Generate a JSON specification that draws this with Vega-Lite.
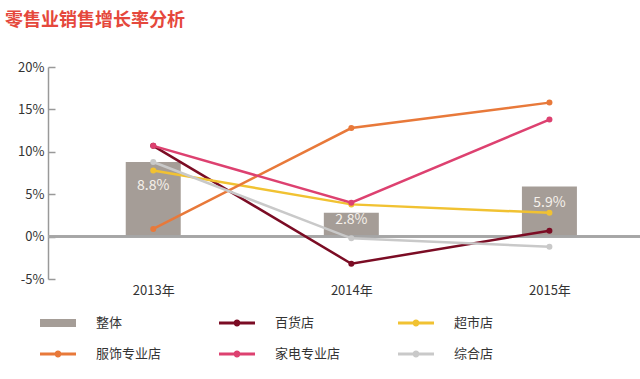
{
  "$schema": "https://vega.github.io/schema/vega-lite/v6.json",
  "width": 592,
  "height": 212,
  "autosize": {"type": "none"},
  "padding": {"left": 48, "top": 67, "right": 0, "bottom": 100},
  "background": "white",
  "config": {"font": "Noto Sans CJK SC", "view": {"stroke": null}},
  "title": {"text": "零售业销售增长率分析", "anchor": "start", "frame": "group", "dx": -43, "offset": 31, "fontSize": 18, "fontWeight": "bold", "color": "#e5483c"},
  "data": {"values": [
    {"year": 2013, "series": "整体", "value": 0.088},
    {"year": 2014, "series": "整体", "value": 0.028},
    {"year": 2015, "series": "整体", "value": 0.059},
    {"year": 2013, "series": "百货店", "value": 0.107},
    {"year": 2014, "series": "百货店", "value": -0.032},
    {"year": 2015, "series": "百货店", "value": 0.007},
    {"year": 2013, "series": "超市店", "value": 0.078},
    {"year": 2014, "series": "超市店", "value": 0.038},
    {"year": 2015, "series": "超市店", "value": 0.028},
    {"year": 2013, "series": "服饰专业店", "value": 0.009},
    {"year": 2014, "series": "服饰专业店", "value": 0.128},
    {"year": 2015, "series": "服饰专业店", "value": 0.158},
    {"year": 2013, "series": "家电专业店", "value": 0.107},
    {"year": 2014, "series": "家电专业店", "value": 0.040},
    {"year": 2015, "series": "家电专业店", "value": 0.138},
    {"year": 2013, "series": "综合店", "value": 0.088},
    {"year": 2014, "series": "综合店", "value": -0.002},
    {"year": 2015, "series": "综合店", "value": -0.012}
  ]},
  "layer": [
    {
      "transform": [{"filter": "datum.series === '整体'"}],
      "mark": {"type": "bar", "size": 55},
      "encoding": {
        "x": {"field": "year", "type": "quantitative", "scale": {"domain": [2012.494, 2015.432], "nice": false, "zero": false},
          "axis": {"values": [2013, 2014, 2015], "labelExpr": "datum.value + '年'", "domain": false, "ticks": false, "grid": false, "labelPadding": 5, "labelFontSize": 13, "labelColor": "#333333", "title": null}},
        "y": {"field": "value", "type": "quantitative", "scale": {"domain": [-0.05, 0.2], "nice": false},
          "axis": {"values": [-0.05, 0, 0.05, 0.1, 0.15, 0.2], "labelExpr": "round(datum.value*100) + '%'", "grid": false, "domainColor": "#999999", "domainWidth": 1.5, "tickColor": "#999999", "tickWidth": 1.5, "tickSize": -7, "labelPadding": 11, "labelFontSize": 13, "labelColor": "#333333", "title": null}},
        "color": {"field": "series", "type": "nominal",
          "scale": {"domain": ["整体", "百货店", "超市店", "服饰专业店", "家电专业店", "综合店"], "range": ["#a59d97", "#7b0c24", "#f1c232", "#e8793a", "#dd4170", "#c9c9c9"]},
          "legend": {"orient": "none", "legendX": -8, "legendY": 238, "columns": 3, "direction": "horizontal", "title": null, "columnPadding": 57, "rowPadding": 6, "labelOffset": 20, "labelFontSize": 13, "labelColor": "#333333", "symbolSize": 1296,
            "encode": {"symbols": {"update": {
              "shape": {"signal": "datum.value === '整体' ? 'M-1,-0.22H1V0.22H-1Z' : 'M-1,-0.08H1V0.08H-1Z M-0.19,0A0.19,0.19 0 1,1 0.19,0A0.19,0.19 0 1,1 -0.19,0Z'"},
              "fill": {"signal": "scale('color', datum.value)"},
              "stroke": {"value": "transparent"},
              "strokeWidth": {"value": 0},
              "opacity": {"value": 1}
            }}}}}
      }
    },
    {
      "mark": {"type": "rule", "color": "#a6a6a6", "strokeWidth": 1.5},
      "encoding": {"y": {"datum": 0}}
    },
    {
      "transform": [{"filter": "datum.series === '整体'"}],
      "mark": {"type": "text", "baseline": "middle", "color": "#f6f1eb", "fontSize": 14},
      "encoding": {
        "x": {"field": "year", "type": "quantitative"},
        "y": {"field": "value", "type": "quantitative", "stack": "zero", "bandPosition": 0.68},
        "text": {"field": "value", "format": ".1%"}
      }
    },
    {
      "transform": [{"filter": "datum.series !== '整体'"}],
      "mark": {"type": "line", "strokeWidth": 2.5, "point": {"filled": true, "size": 36}},
      "encoding": {
        "x": {"field": "year", "type": "quantitative"},
        "y": {"field": "value", "type": "quantitative"},
        "color": {"field": "series", "type": "nominal"}
      }
    }
  ]
}
